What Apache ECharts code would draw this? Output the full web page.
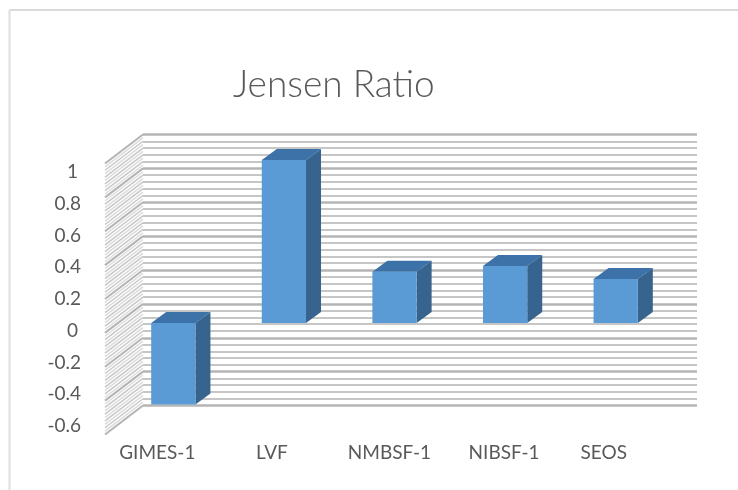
<!DOCTYPE html>
<html>
<head>
<meta charset="utf-8">
<style>html,body{margin:0;padding:0;background:#fff}#c{width:738px;height:490px;filter:blur(0.4px)}</style>
<script src="https://cdn.jsdelivr.net/npm/echarts@6/dist/echarts.min.js"></script>
</head>
<body>
<div id="c"></div>
<script>
const categories = ['GIMES-1', 'LVF', 'NMBSF-1', 'NIBSF-1', 'SEOS'];
const values = [-0.5, 1.0, 0.315, 0.35, 0.27];
const labelShift = [32, 24, 10, 2, 24];
const axisMin = -0.6, axisMax = 1, majorStep = 0.2, minorPerMajor = 5;

const FONT = 'Lato';
const TXT = '#595959';
const WALL_DEPTH = [-38, 29];
const BAR_DEPTH = [15, -11];
const MAJOR = '#b4b4b4', MINOR = '#c6c6c6', SIDE = '#c8c8c8', SIDE_FAINT = '#dcdcdc';

// Side-wall rungs: level 2 = major tick, 1 = minor tick, 0 = faint in-between rung
const wallTicks = [];
for (let i = 0; i <= (axisMax - axisMin) / majorStep * minorPerMajor * 2 + 0.001; i++) {
  const level = i % (minorPerMajor * 2) === 0 ? 2 : (i % 2 === 0 ? 1 : 0);
  wallTicks.push([+(axisMin + i * majorStep / minorPerMajor / 2).toFixed(2), level]);
}

const chart = echarts.init(document.getElementById('c'), null, {renderer: 'canvas'});
chart.setOption({
  animation: false,
  backgroundColor: '#fff',
  title: {
    text: 'Jensen Ratio', left: 228, top: 62,
    textStyle: {fontFamily: FONT, fontSize: 37, fontWeight: 300, color: TXT}
  },
  graphic: [
    {type: 'line', silent: true, shape: {x1: 9.5, y1: 10, x2: 738, y2: 10}, style: {stroke: '#d9d9d9', lineWidth: 2}},
    {type: 'line', silent: true, shape: {x1: 9.5, y1: 10, x2: 9.5, y2: 490}, style: {stroke: '#dedede', lineWidth: 2}}
  ],
  grid: [
    {left: 143, right: 41, top: 134.5, bottom: 84.5},
    {left: 84, width: 30, top: 172, bottom: 64},
    {left: 118, right: 67, top: 160, bottom: 69.2}
  ],
  xAxis: [
    {gridIndex: 0, type: 'value', min: 0, max: 1, show: false},
    {gridIndex: 1, type: 'value', min: 0, max: 1, show: false},
    {gridIndex: 2, type: 'category', data: categories.map((c, i) => ({
        value: c, textStyle: {padding: [0, labelShift[i], 0, 0]}
      })),
      axisLine: {show: false}, axisTick: {show: false},
      axisLabel: {fontFamily: FONT, fontSize: 19, color: TXT, margin: 23, interval: 0}
    }
  ],
  yAxis: [
    {gridIndex: 0, type: 'value', min: axisMin, max: axisMax, interval: majorStep,
      axisLine: {show: false}, axisTick: {show: false}, axisLabel: {show: false},
      splitLine: {show: true, lineStyle: {color: MAJOR, width: 2.5}},
      minorTick: {show: false, splitNumber: minorPerMajor},
      minorSplitLine: {show: true, lineStyle: {color: MINOR, width: 2}}
    },
    {gridIndex: 1, type: 'value', min: axisMin, max: axisMax, interval: majorStep,
      axisLine: {show: false}, axisTick: {show: false}, splitLine: {show: false},
      axisLabel: {
        fontFamily: FONT, fontSize: 19, color: TXT, margin: 3,
        formatter: v => {
          const s = String(+v.toFixed(1));
          return Number.isInteger(+s) ? '{i|' + s + '}' : s;
        },
        rich: {i: {fontFamily: FONT, fontSize: 19, color: TXT, padding: [0, 3, 0, 0]}}
      }
    },
    {gridIndex: 2, type: 'value', min: axisMin, max: axisMax, show: false}
  ],
  series: [
    {
      type: 'custom', xAxisIndex: 0, yAxisIndex: 0, silent: true, z: 2, clip: false,
      data: wallTicks,
      renderItem: (p, api) => {
        const a = api.coord([0, api.value(0)]);
        const level = api.value(1);
        return {
          type: 'line',
          shape: {x1: a[0], y1: a[1], x2: a[0] + WALL_DEPTH[0], y2: a[1] + WALL_DEPTH[1]},
          style: {
            stroke: level === 2 ? MAJOR : (level === 1 ? SIDE : SIDE_FAINT),
            lineWidth: level === 2 ? 2 : 1.5
          }
        };
      }
    },
    {
      type: 'custom', xAxisIndex: 2, yAxisIndex: 2, silent: true, z: 3, clip: false,
      data: values.map((v, i) => [i, v]),
      renderItem: (p, api) => {
        const idx = api.value(0), v = api.value(1);
        const w = api.size([1, 0])[0] * 0.4;
        const c0 = api.coord([idx, 0]), c1 = api.coord([idx, v]);
        const l = c0[0] - w / 2, r = c0[0] + w / 2;
        const t = Math.min(c0[1], c1[1]), b = Math.max(c0[1], c1[1]);
        const dx = BAR_DEPTH[0], dy = BAR_DEPTH[1];
        return {
          type: 'group',
          children: [
            {type: 'polygon', shape: {points: [[l, t], [l + dx, t + dy], [r + dx, t + dy], [r, t]]}, style: {fill: '#3d72a9'}},
            {type: 'polygon', shape: {points: [[r, t], [r + dx, t + dy], [r + dx, b + dy], [r, b]]}, style: {fill: '#37648f'}},
            {type: 'rect', shape: {x: l, y: t, width: w, height: b - t}, style: {fill: '#5b9bd5'}}
          ]
        };
      }
    }
  ]
});
</script>
</body>
</html>
